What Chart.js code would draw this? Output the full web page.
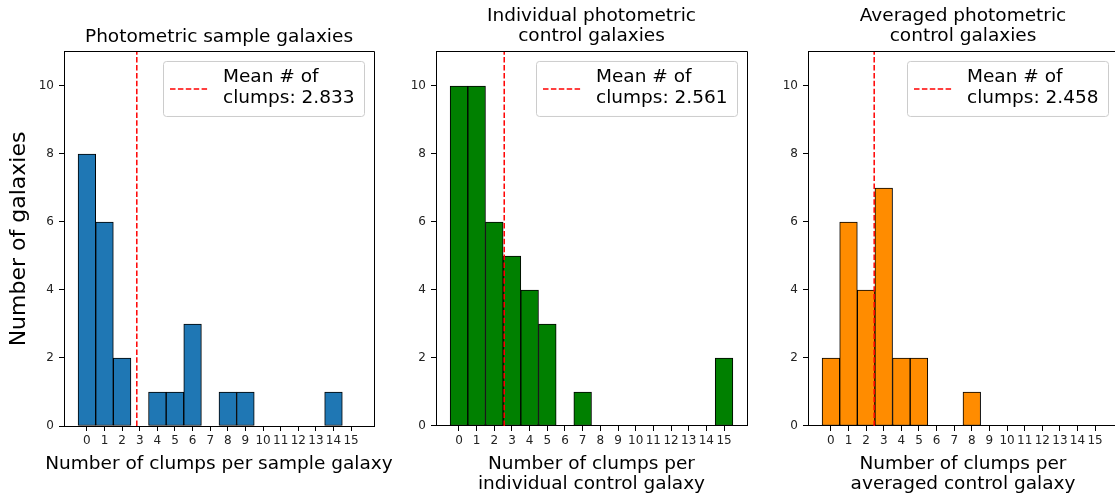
<!DOCTYPE html>
<html>
<head>
<meta charset="utf-8">
<script src="https://cdn.jsdelivr.net/npm/chart.js@4.4.1/dist/chart.umd.min.js"></script>
<style>
  html, body { margin: 0; padding: 0; background: #fff; overflow: hidden; }
  .panel { position: absolute; top: 0; height: 498px; }
</style>
</head>
<body>
<div class="panel" style="left:0;width:410px"><canvas id="sampleChart" width="410" height="498"></canvas></div>
<div class="panel" style="left:390px;width:375px"><canvas id="individualChart" width="375" height="498"></canvas></div>
<div class="panel" style="left:760px;width:375px"><canvas id="averagedChart" width="375" height="498"></canvas></div>
<script>
// histogram bins (number of clumps) and y tick values
const clumpBins = [0, 1, 2, 3, 4, 5, 6, 7, 8, 9, 10, 11, 12, 13, 14, 15];
const countTicks = [0, 2, 4, 6, 8, 10];

// galaxy counts per bin
const sampleCounts = [8, 6, 2, 0, 1, 1, 3, 0, 1, 1, 0, 0, 0, 0, 1, 0];
const individualCounts = [10, 10, 6, 5, 4, 3, 0, 1, 0, 0, 0, 0, 0, 0, 0, 2];
const averagedCounts = [2, 6, 4, 7, 2, 2, 0, 0, 1, 0, 0, 0, 0, 0, 0, 0];

// mean number of clumps for each group
const meanClumps = [2.833, 2.561, 2.458];

const FONT = "'DejaVu Sans', sans-serif";
const Y_MAX = 11;
const DASH = [5.5, 2.4];

function alignPx(v) {
  return Math.round(v - 0.5) + 0.5;
}

// top/right frame, x axis label (may be wider than the axes) and the mean legend box
const meanLegend = {
  id: "meanLegend",
  afterDraw(chart, args, opts) {
    const { ctx, chartArea: a } = chart;
    ctx.save();
    ctx.strokeStyle = "#000";
    ctx.lineWidth = 1;
    ctx.beginPath();
    ctx.moveTo(alignPx(a.left), alignPx(a.top));
    ctx.lineTo(alignPx(a.right), alignPx(a.top));
    ctx.lineTo(alignPx(a.right), alignPx(a.bottom));
    ctx.stroke();

    ctx.fillStyle = "#000";
    ctx.font = "18.5px " + FONT;
    ctx.textBaseline = "middle";
    ctx.textAlign = "center";
    const cx = (a.left + a.right) / 2;
    [].concat(opts.xTitle).forEach((line, i) => {
      ctx.fillText(line, cx, a.bottom + 38 + i * 20);
    });

    const w = 201, h = 55;
    const x = a.right - 10 - w, y = a.top + 9;
    ctx.beginPath();
    ctx.roundRect(x + 0.5, y + 0.5, w, h, 3);
    ctx.fillStyle = "rgba(255,255,255,0.8)";
    ctx.fill();
    ctx.strokeStyle = "#cccccc";
    ctx.stroke();

    ctx.beginPath();
    ctx.setLineDash(DASH);
    ctx.strokeStyle = "red";
    ctx.lineWidth = 1.5;
    ctx.moveTo(x + 7, y + h / 2 + 0.5);
    ctx.lineTo(x + 45, y + h / 2 + 0.5);
    ctx.stroke();
    ctx.setLineDash([]);

    ctx.fillStyle = "#000";
    ctx.textAlign = "left";
    ctx.fillText("Mean # of", x + 60, y + 16);
    ctx.fillText("clumps: " + opts.mean.toFixed(3), x + 60, y + 37);
    ctx.restore();
  },
};

function buildPanel(id, counts, color, mean, titleText, xTitle, yTitle, yAxisWidth, rightPad) {
  const bars = clumpBins.map((b, i) => ({ x: b, y: counts[i] }));
  const twoLineTitle = Array.isArray(titleText);

  return new Chart(document.getElementById(id), {
    type: "bar",
    data: {
      datasets: [
        {
          type: "line",
          data: [{ x: mean, y: 0 }, { x: mean, y: Y_MAX }],
          borderColor: "red",
          borderWidth: 1.5,
          borderDash: DASH,
          pointRadius: 0,
          order: 0,
        },
        {
          type: "bar",
          data: bars,
          backgroundColor: color,
          borderColor: "#000",
          borderWidth: 1,
          borderSkipped: false,
          barPercentage: 1,
          categoryPercentage: 1,
          order: 1,
        },
      ],
    },
    options: {
      animation: false,
      responsive: false,
      devicePixelRatio: 1,
      layout: { padding: { left: 0, top: 0, right: rightPad, bottom: 0 } },
      plugins: {
        legend: { display: false },
        tooltip: { enabled: false },
        title: {
          display: true,
          text: titleText,
          fullSize: false,
          color: "#000",
          font: { family: FONT, size: 18.5, weight: "normal", lineHeight: 1.08 },
          padding: twoLineTitle ? { top: 6, bottom: 6 } : { top: 27, bottom: 5 },
        },
        meanLegend: { mean: mean, xTitle: xTitle },
      },
      scales: {
        x: {
          type: "linear",
          min: -1.3,
          max: 16.3,
          offset: false,
          grid: { offset: false, drawOnChartArea: false, drawTicks: true, tickLength: 5, color: "#000" },
          border: { display: true, color: "#000", width: 1 },
          ticks: {
            autoSkip: false,
            maxRotation: 0,
            minRotation: 0,
            padding: 3,
            color: "#222",
            font: { family: FONT, size: 12 },
            callback: (v) => String(v),
          },
          afterBuildTicks: (s) => { s.ticks = clumpBins.map((v) => ({ value: v })); },
          afterFit: (s) => { s.height = 72; },
        },
        y: {
          min: 0,
          max: Y_MAX,
          grid: { drawOnChartArea: false, drawTicks: true, tickLength: 5, color: "#000" },
          border: { display: true, color: "#000", width: 1 },
          ticks: {
            padding: 5,
            color: "#222",
            font: { family: FONT, size: 12 },
          },
          afterBuildTicks: (s) => { s.ticks = countTicks.map((v) => ({ value: v })); },
          afterFit: (s) => { s.width = yAxisWidth; },
          title: {
            display: !!yTitle,
            text: yTitle || "",
            color: "#000",
            font: { family: FONT, size: 22, lineHeight: 1.2 },
            padding: { top: 6, bottom: 0 },
          },
        },
      },
    },
    plugins: [meanLegend],
  });
}

buildPanel("sampleChart", sampleCounts, "#1f77b4", meanClumps[0],
  "Photometric sample galaxies",
  "Number of clumps per sample galaxy",
  "Number of galaxies", 64, 36);

buildPanel("individualChart", individualCounts, "#008000", meanClumps[1],
  ["Individual photometric", "control galaxies"],
  ["Number of clumps per", "individual control galaxy"],
  null, 46, 18);

buildPanel("averagedChart", averagedCounts, "#ff8c00", meanClumps[2],
  ["Averaged photometric", "control galaxies"],
  ["Number of clumps per", "averaged control galaxy"],
  null, 48, 17);
</script>
</body>
</html>
